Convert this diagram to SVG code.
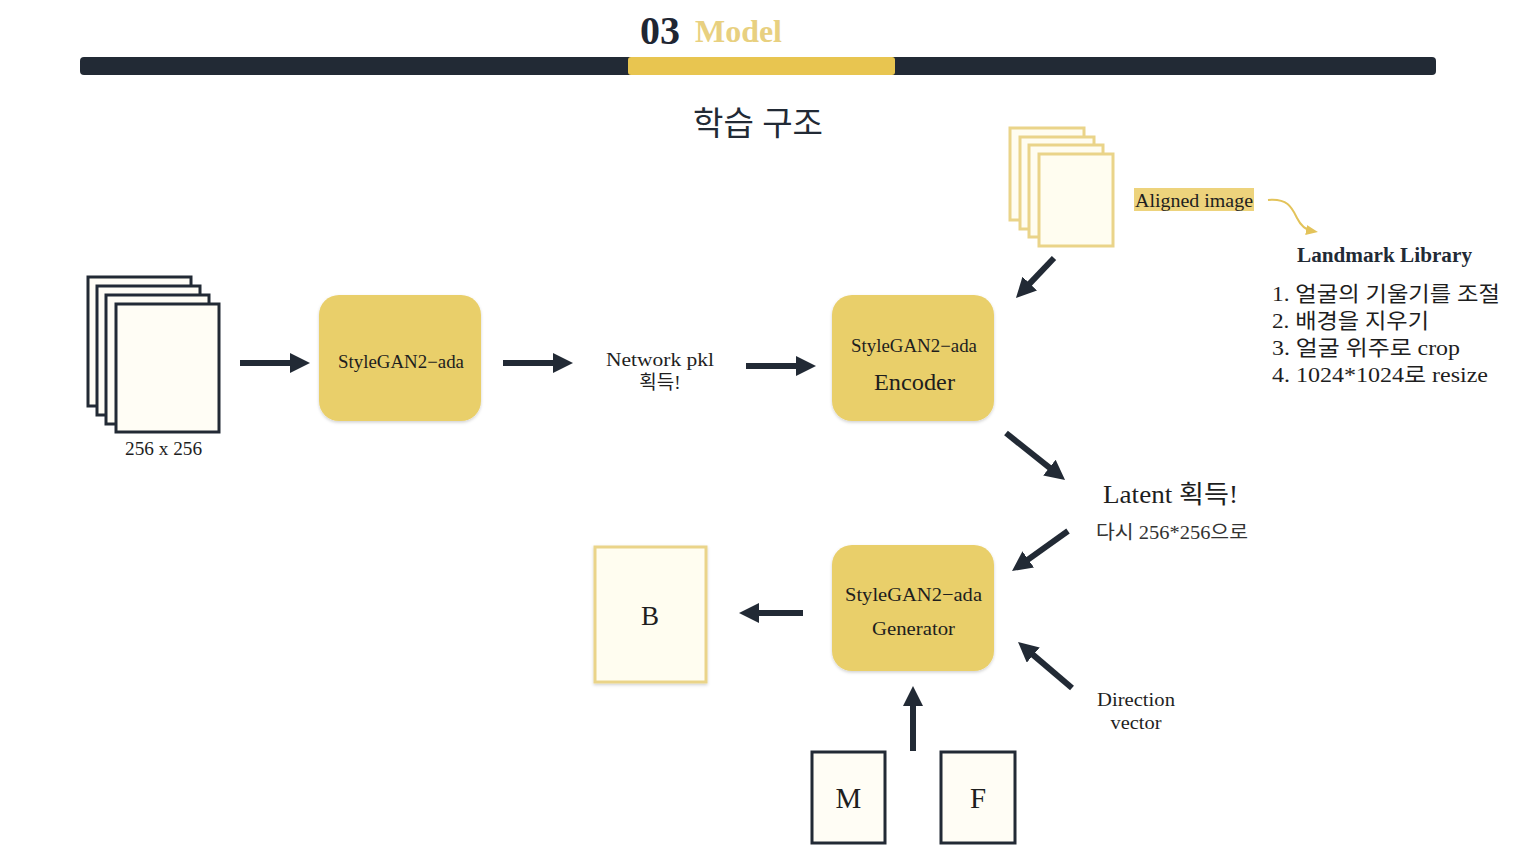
<svg xmlns="http://www.w3.org/2000/svg" width="1518" height="851" viewBox="0 0 1518 851">
<style>
.t{font-family:"Liberation Serif","Noto Sans CJK KR",serif;fill:#1e1e1e}
.c{text-anchor:middle}
.box{fill:#e9cf6b;filter:url(#sh)}
.dk{fill:#fffdf5;stroke:#222a35;stroke-width:3}
.gd{fill:#fffdf0;stroke:#ead489;stroke-width:3}
.ar{stroke:#222a35;stroke-width:6;fill:none;marker-end:url(#ah)}
</style>
<defs>
<marker id="ah" markerUnits="userSpaceOnUse" markerWidth="20" markerHeight="20" refX="6" refY="10" orient="auto">
<path d="M0,0 L20,10 L0,20 z" fill="#222a35"/>
</marker>
<marker id="gh" markerUnits="userSpaceOnUse" markerWidth="12" markerHeight="12" refX="6" refY="6" orient="auto">
<path d="M0,1 L12,6 L0,11 z" fill="#e3c35a"/>
</marker>
<filter id="sh" x="-10%" y="-10%" width="120%" height="125%">
<feDropShadow dx="0" dy="1.5" stdDeviation="1.5" flood-color="#000" flood-opacity="0.18"/>
</filter>
</defs>
<rect width="1518" height="851" fill="#ffffff"/>
<g id="header">
<text x="640" y="44" class="t" font-size="40" font-weight="bold" style="fill:#1f2633">03</text>
<text x="695" y="42" class="t" font-size="31" font-weight="bold" textLength="87" lengthAdjust="spacingAndGlyphs" style="fill:#e8d080">Model</text>
<rect x="80" y="57" width="1356" height="18" rx="4" fill="#222a35"/>
<rect x="628" y="57" width="267" height="18" rx="3" fill="#e8c550"/>
<text x="758" y="135" class="t c" font-size="33" textLength="130" lengthAdjust="spacingAndGlyphs" style="fill:#222a35">학습 구조</text>
</g>
<g id="input-stack">
<rect x="88" y="277" width="103" height="129" class="dk"/>
<rect x="97" y="286" width="103" height="129" class="dk"/>
<rect x="106" y="295" width="103" height="129" class="dk"/>
<rect x="116" y="304" width="103" height="128" class="dk"/>
<text x="163.5" y="455" class="t c" font-size="18" textLength="77" lengthAdjust="spacingAndGlyphs">256 x 256</text>
</g>
<g id="stylegan-train">
<rect x="319" y="295" width="162" height="126" rx="20" class="box"/>
<text x="401" y="368" class="t c" font-size="18" textLength="126" lengthAdjust="spacingAndGlyphs">StyleGAN2−ada</text>
</g>
<g id="network-pkl">
<text x="660" y="366" class="t c" font-size="19" textLength="108" lengthAdjust="spacingAndGlyphs">Network pkl</text>
<text x="660" y="389" class="t c" font-size="19">획득!</text>
</g>
<g id="encoder">
<rect x="832" y="295" width="162" height="126" rx="20" class="box"/>
<text x="914" y="352" class="t c" font-size="18" textLength="126" lengthAdjust="spacingAndGlyphs">StyleGAN2−ada</text>
<text x="914.5" y="390" class="t c" font-size="23" textLength="81" lengthAdjust="spacingAndGlyphs">Encoder</text>
</g>
<g id="aligned-stack">
<rect x="1010" y="128" width="74" height="92" class="gd"/>
<rect x="1020" y="137" width="74" height="92" class="gd"/>
<rect x="1029" y="145" width="74" height="92" class="gd"/>
<rect x="1039" y="154" width="74" height="92" class="gd"/>
<rect x="1134" y="188" width="120" height="23" fill="#edd37c"/>
<text x="1194" y="207" class="t c" font-size="19" textLength="118" lengthAdjust="spacingAndGlyphs">Aligned image</text>
</g>
<g id="landmark">
<text x="1384.5" y="262" class="t c" font-size="20" font-weight="bold" textLength="175" lengthAdjust="spacingAndGlyphs" style="fill:#222a35">Landmark Library</text>
<text x="1272" y="301" class="t" font-size="21" textLength="228" lengthAdjust="spacingAndGlyphs">1. 얼굴의 기울기를 조절</text>
<text x="1272" y="328" class="t" font-size="21" textLength="157" lengthAdjust="spacingAndGlyphs">2. 배경을 지우기</text>
<text x="1272" y="355" class="t" font-size="21" textLength="188" lengthAdjust="spacingAndGlyphs">3. 얼굴 위주로 crop</text>
<text x="1272" y="382" class="t" font-size="21" textLength="216" lengthAdjust="spacingAndGlyphs">4. 1024*1024로 resize</text>
</g>
<g id="latent">
<text x="1170.5" y="503" class="t c" font-size="25" textLength="135" lengthAdjust="spacingAndGlyphs">Latent 획득!</text>
<text x="1172" y="539" class="t c" font-size="19" textLength="152" lengthAdjust="spacingAndGlyphs" style="fill:#333">다시 256*256으로</text>
</g>
<g id="generator">
<rect x="832" y="545" width="162" height="126" rx="20" class="box"/>
<text x="913.5" y="601" class="t c" font-size="19" textLength="137" lengthAdjust="spacingAndGlyphs">StyleGAN2−ada</text>
<text x="913.5" y="635" class="t c" font-size="19" textLength="83" lengthAdjust="spacingAndGlyphs">Generator</text>
</g>
<g id="direction">
<text x="1136" y="706" class="t c" font-size="19" textLength="78" lengthAdjust="spacingAndGlyphs">Direction</text>
<text x="1136" y="729" class="t c" font-size="19" textLength="51" lengthAdjust="spacingAndGlyphs">vector</text>
</g>
<g id="output-b">
<rect x="595" y="547" width="111" height="135" class="gd" filter="url(#sh)"/>
<text x="650" y="625" class="t c" font-size="27">B</text>
</g>
<g id="input-m">
<rect x="812" y="752" width="73" height="91" class="dk"/>
<text x="848.5" y="808" class="t c" font-size="29">M</text>
</g>
<g id="input-f">
<rect x="941" y="752" width="74" height="91" class="dk"/>
<text x="978" y="808" class="t c" font-size="29">F</text>
</g>
<g id="connectors">
<line x1="240" y1="363" x2="296" y2="363" class="ar"/>
<line x1="503" y1="363" x2="559" y2="363" class="ar"/>
<line x1="746" y1="366" x2="802" y2="366" class="ar"/>
<line x1="1054" y1="258" x2="1025.6" y2="287.9" class="ar"/>
<line x1="1006" y1="433" x2="1054.1" y2="471.3" class="ar"/>
<line x1="1068" y1="531" x2="1023.4" y2="562.9" class="ar"/>
<line x1="1072" y1="688" x2="1028.7" y2="651.1" class="ar"/>
<line x1="803" y1="613" x2="753" y2="613" class="ar"/>
<line x1="913" y1="751" x2="913" y2="700" class="ar"/>
<path d="M1268,200 C1288,198 1292,208 1297,218 C1301,226 1306,230 1312,231" fill="none" stroke="#e3c35a" stroke-width="2" marker-end="url(#gh)"/>
</g>
</svg>
